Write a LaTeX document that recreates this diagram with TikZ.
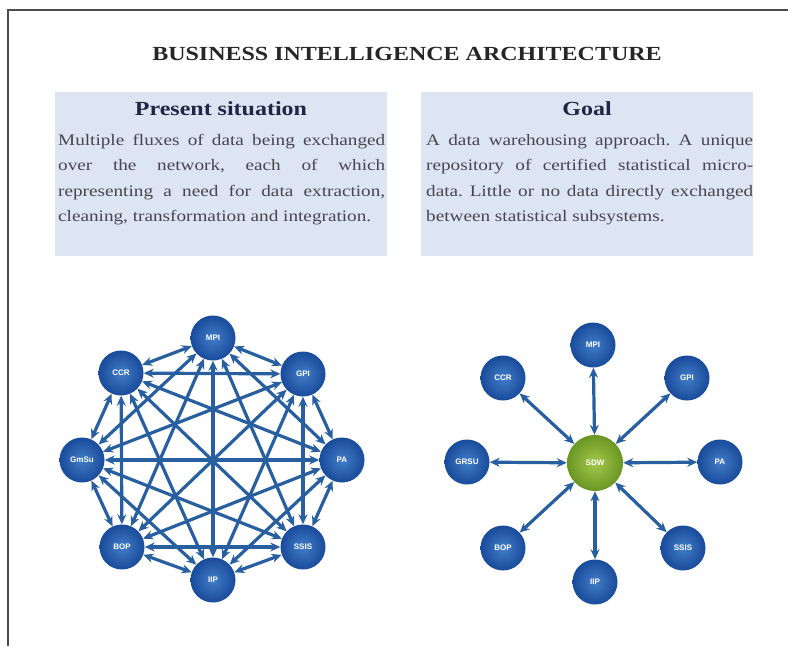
\documentclass[tikz,border=0pt]{standalone}
\usepackage{fontspec}
\setmainfont[FakeStretch=1.2]{Liberation Serif}
\newfontfamily\ballfont{Liberation Sans}
\usepackage{xcolor}
\usetikzlibrary{shapes.geometric, arrows.meta, positioning}
\definecolor{boxfill}{RGB}{221,228,242}
\definecolor{ballin}{RGB}{65,125,200}
\definecolor{ballout}{RGB}{25,75,155}
\definecolor{sdwin}{RGB}{165,200,75}
\definecolor{sdwout}{RGB}{105,150,35}
\definecolor{flux}{RGB}{40,95,160}
\definecolor{headtext}{RGB}{30,40,70}
\definecolor{bodytext}{RGB}{70,70,80}
\newcommand{\boxfont}{\fontsize{16}{25.5}\selectfont\frenchspacing\hyphenpenalty=10000\relax\exhyphenpenalty=10000\relax}
\tikzstyle{infobox} = [rectangle, fill=boxfill, minimum width=332pt, minimum height=164pt, inner sep=0]
\tikzstyle{boxhead} = [anchor=base, inner sep=0, font=\fontsize{20}{24}\selectfont\bfseries, text=headtext]
\tikzstyle{boxtext} = [anchor=north west, text width=327pt, align=justify, inner sep=0, font=\boxfont, text=bodytext]
\tikzstyle{ball} = [circle, minimum size=45pt, inner sep=0, inner color=ballin, outer color=ballout, font=\ballfont\bfseries\fontsize{8}{8}\selectfont, text=white]
\tikzstyle{hub} = [ball, minimum size=56pt, inner color=sdwin, outer color=sdwout]
\tikzstyle{line} = [draw, <->, >={Stealth[length=10pt,width=9pt]}, line width=3.2pt, flux]

\begin{document}
\begin{tikzpicture}[x=1pt, y=-1pt]
\useasboundingbox (0,0) rectangle (788,646);
\draw [line width=1.5pt, black!70] (788,10) -- (8,10) -- (8,646);

\node [anchor=base, inner sep=0, font=\fontsize{20}{24}\selectfont\bfseries, text=black!85] (title) at (407,60) {BUSINESS INTELLIGENCE ARCHITECTURE};

\node [infobox] (presentbox) at (221,174) {};
\node [boxhead] (presenthead) at (221,115) {Present situation};
\node [boxtext] (presenttext) at (58,134) {Multiple fluxes of data being exchanged\linebreak over the network, each of which\linebreak representing a need for data extraction,\linebreak cleaning, transformation and integration.};

\node [infobox] (goalbox) at (587,174) {};
\node [boxhead] (goalhead) at (587,115) {Goal};
\node [boxtext] (goaltext) at (426,134) {A data warehousing approach. A unique\linebreak repository of certified statistical micro-\linebreak data. Little or no data directly exchanged\linebreak between statistical subsystems.};

% present situation: every subsystem talks to every other
\node [ball] (MPI) at (213,338) {MPI};
\node [ball] (GPI) at (303,374) {GPI};
\node [ball] (PA) at (342,460) {PA};
\node [ball] (SSIS) at (303,547) {SSIS};
\node [ball] (IIP) at (213,580) {IIP};
\node [ball] (BOP) at (122,547) {BOP};
\node [ball] (GmSu) at (82,460) {GmSu};
\node [ball] (CCR) at (121,373) {CCR};

\path [line] (MPI) -- (GPI);
\path [line] (MPI) -- (PA);
\path [line] (MPI) -- (SSIS);
\path [line] (MPI) -- (IIP);
\path [line] (MPI) -- (BOP);
\path [line] (MPI) -- (GmSu);
\path [line] (MPI) -- (CCR);
\path [line] (GPI) -- (PA);
\path [line] (GPI) -- (SSIS);
\path [line] (GPI) -- (IIP);
\path [line] (GPI) -- (BOP);
\path [line] (GPI) -- (GmSu);
\path [line] (GPI) -- (CCR);
\path [line] (PA) -- (SSIS);
\path [line] (PA) -- (IIP);
\path [line] (PA) -- (BOP);
\path [line] (PA) -- (GmSu);
\path [line] (PA) -- (CCR);
\path [line] (SSIS) -- (IIP);
\path [line] (SSIS) -- (BOP);
\path [line] (SSIS) -- (GmSu);
\path [line] (SSIS) -- (CCR);
\path [line] (IIP) -- (BOP);
\path [line] (IIP) -- (GmSu);
\path [line] (IIP) -- (CCR);
\path [line] (BOP) -- (GmSu);
\path [line] (BOP) -- (CCR);
\path [line] (GmSu) -- (CCR);

% goal: everything goes through the warehouse
\node [hub] (SDW) at (595,463) {SDW};
\node [ball] (MPI2) at (593,345) {MPI};
\node [ball] (GPI2) at (687,378) {GPI};
\node [ball] (PA2) at (720,462) {PA};
\node [ball] (SSIS2) at (683,548) {SSIS};
\node [ball] (IIP2) at (595,582) {IIP};
\node [ball] (BOP2) at (503,548) {BOP};
\node [ball] (GRSU2) at (467,462) {GRSU};
\node [ball] (CCR2) at (503,378) {CCR};

\path [line] (SDW) -- (MPI2);
\path [line] (SDW) -- (GPI2);
\path [line] (SDW) -- (PA2);
\path [line] (SDW) -- (SSIS2);
\path [line] (SDW) -- (IIP2);
\path [line] (SDW) -- (BOP2);
\path [line] (SDW) -- (GRSU2);
\path [line] (SDW) -- (CCR2);

\end{tikzpicture}
\end{document}
